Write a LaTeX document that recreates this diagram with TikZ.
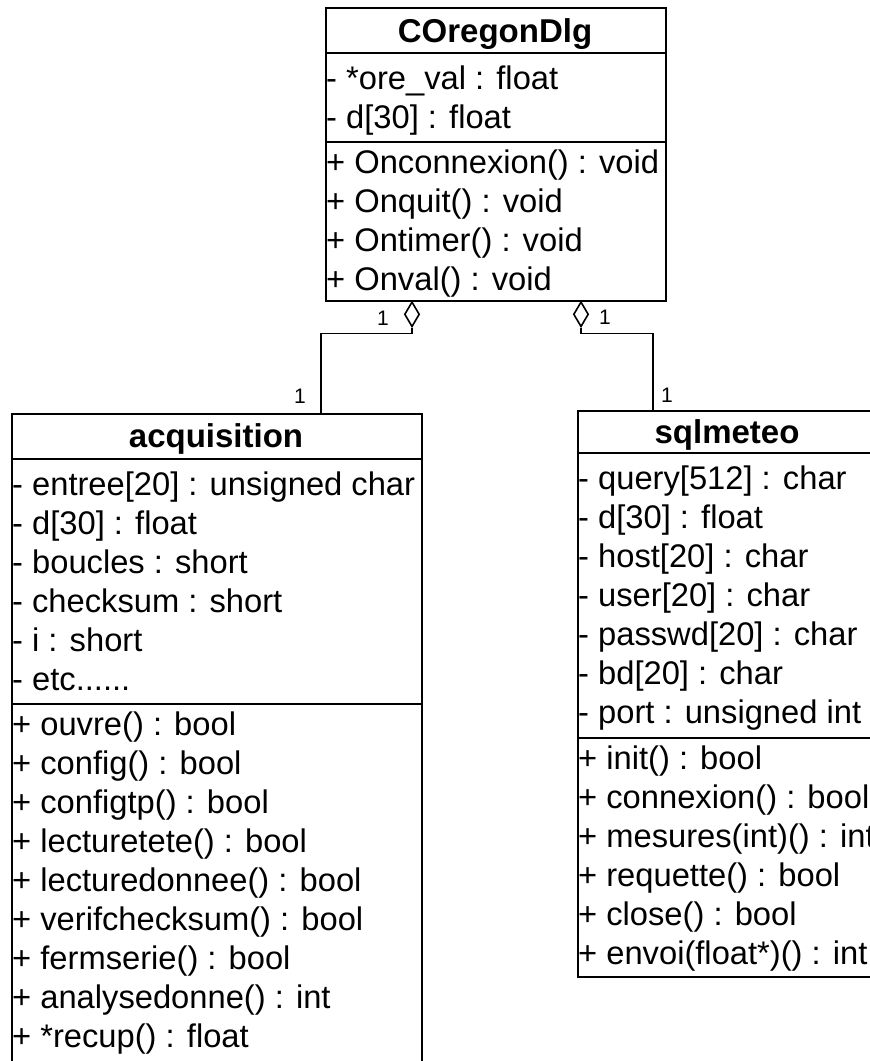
\documentclass[tikz,border=0pt]{standalone}
\usepackage{fontspec}
\setmainfont{Liberation Sans}
\usetikzlibrary{shapes.geometric}
\tikzset{
  umlclass/.style={rectangle, draw=black, line width=1.6pt, fill=white,
                   anchor=north west, inner sep=0pt},
  umlname/.style={anchor=base, inner sep=0pt, font=\fontsize{33}{39}\selectfont\bfseries},
  umlattr/.style={anchor=base west, inner sep=0pt, font=\fontsize{32.7}{39}\selectfont},
  umlop/.style={umlattr},
  umlsep/.style={line width=1.6pt},
  umlaggr/.style={diamond, draw=black, line width=1.6pt, fill=white, inner sep=0pt,
                  minimum width=15pt, minimum height=25pt, anchor=north},
  umllink/.style={line width=1.6pt},
  umlmult/.style={inner sep=0pt, font=\fontsize{21}{24}\selectfont},
}

\begin{document}
\begin{tikzpicture}[x=1pt, y=-1pt]
  \useasboundingbox (0,0) rectangle (870,1061);
  \clip (0,0) rectangle (870,1061);
  \node[umlclass, minimum width=340pt, minimum height=293pt] (dlg) at (325,7) {};
  \node[umlclass, minimum width=410pt, minimum height=660pt] (acq) at (11,413) {};
  \node[umlclass, minimum width=300pt, minimum height=566pt] (sql) at (577,410) {};
  \node[umlname] (dlgName) at (495,42)  {COregonDlg};
  \node[umlattr] (dlgA1) at (326,89)  {- *ore\_val : float};
  \node[umlattr] (dlgA2) at (326,128) {- d[30] : float};
  \node[umlop]   (dlgO1) at (326,173) {+ Onconnexion() : void};
  \node[umlop]   (dlgO2) at (326,212) {+ Onquit() : void};
  \node[umlop]   (dlgO3) at (326,251) {+ Ontimer() : void};
  \node[umlop]   (dlgO4) at (326,290) {+ Onval() : void};
  \draw[umlsep] (325,53)  -- (665,53);
  \draw[umlsep] (325,142) -- (665,142);
  \node[umlname] (acqName) at (216,447) {acquisition};
  \node[umlattr] (acqA1) at (12,495)  {- entree[20] : unsigned char};
  \node[umlattr] (acqA2) at (12,534)  {- d[30] : float};
  \node[umlattr] (acqA3) at (12,573)  {- boucles : short};
  \node[umlattr] (acqA4) at (12,612)  {- checksum : short};
  \node[umlattr] (acqA5) at (12,651)  {- i : short};
  \node[umlattr] (acqA6) at (12,690)  {- etc......};
  \node[umlop]   (acqO1) at (12,735)  {+ ouvre() : bool};
  \node[umlop]   (acqO2) at (12,774)  {+ config() : bool};
  \node[umlop]   (acqO3) at (12,813)  {+ configtp() : bool};
  \node[umlop]   (acqO4) at (12,852)  {+ lecturetete() : bool};
  \node[umlop]   (acqO5) at (12,891)  {+ lecturedonnee() : bool};
  \node[umlop]   (acqO6) at (12,930)  {+ verifchecksum() : bool};
  \node[umlop]   (acqO7) at (12,969)  {+ fermserie() : bool};
  \node[umlop]   (acqO8) at (12,1008) {+ analysedonne() : int};
  \node[umlop]   (acqO9) at (12,1047) {+ *recup() : float};
  \draw[umlsep] (11,459) -- (421,459);
  \draw[umlsep] (11,704) -- (421,704);
  \node[umlname] (sqlName) at (727,443) {sqlmeteo};
  \node[umlattr] (sqlA1) at (578,489) {- query[512] : char};
  \node[umlattr] (sqlA2) at (578,528) {- d[30] : float};
  \node[umlattr] (sqlA3) at (578,567) {- host[20] : char};
  \node[umlattr] (sqlA4) at (578,606) {- user[20] : char};
  \node[umlattr] (sqlA5) at (578,645) {- passwd[20] : char};
  \node[umlattr] (sqlA6) at (578,684) {- bd[20] : char};
  \node[umlattr] (sqlA7) at (578,723) {- port : unsigned int};
  \node[umlop]   (sqlO1) at (578,769) {+ init() : bool};
  \node[umlop]   (sqlO2) at (578,808) {+ connexion() : bool};
  \node[umlop]   (sqlO3) at (578,847) {+ mesures(int)() : int};
  \node[umlop]   (sqlO4) at (578,886) {+ requette() : bool};
  \node[umlop]   (sqlO5) at (578,925) {+ close() : bool};
  \node[umlop]   (sqlO6) at (578,964) {+ envoi(float*)() : int};
  \draw[umlsep] (577,453) -- (877,453);
  \draw[umlsep] (577,738) -- (877,738);
  \coordinate (acqIn) at (321,413);
  \coordinate (sqlIn) at (653,410);
  \node[umlaggr] (aggL) at (412,301) {};
  \node[umlaggr] (aggR) at (581,301) {};
  \draw[umllink] (aggL.south) -- ++(0,6) -| (acqIn);
  \draw[umllink] (aggR.south) -- ++(0,6) -| (sqlIn);
  \node[umlmult] (multL1) at (383,318) {1};
  \node[umlmult] (multR1) at (605,317) {1};
  \node[umlmult] (multL2) at (300,396) {1};
  \node[umlmult] (multR2) at (667,395) {1};
\end{tikzpicture}
\end{document}
